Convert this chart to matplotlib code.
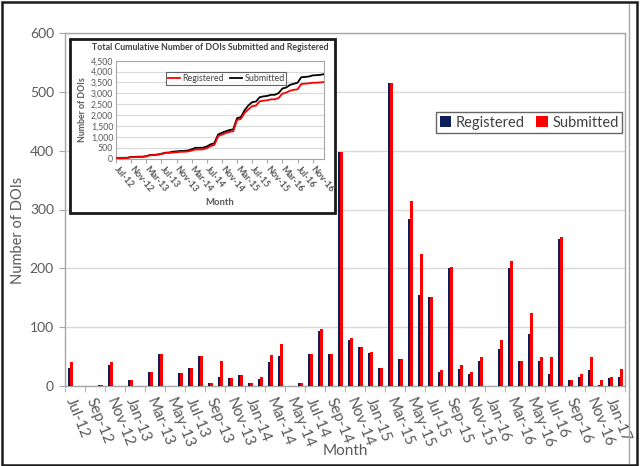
import numpy as np
import matplotlib
matplotlib.use("Agg")
import matplotlib.pyplot as plt
from matplotlib.patches import Rectangle

plt.rcParams['font.family'] = ['Lato', 'DejaVu Sans']

months = ["Jul-12", "Aug-12", "Sep-12", "Oct-12", "Nov-12", "Dec-12",
          "Jan-13", "Feb-13", "Mar-13", "Apr-13", "May-13", "Jun-13",
          "Jul-13", "Aug-13", "Sep-13", "Oct-13", "Nov-13", "Dec-13",
          "Jan-14", "Feb-14", "Mar-14", "Apr-14", "May-14", "Jun-14",
          "Jul-14", "Aug-14", "Sep-14", "Oct-14", "Nov-14", "Dec-14",
          "Jan-15", "Feb-15", "Mar-15", "Apr-15", "May-15", "Jun-15",
          "Jul-15", "Aug-15", "Sep-15", "Oct-15", "Nov-15", "Dec-15",
          "Jan-16", "Feb-16", "Mar-16", "Apr-16", "May-16", "Jun-16",
          "Jul-16", "Aug-16", "Sep-16", "Oct-16", "Nov-16", "Dec-16",
          "Jan-17", "Feb-17"]

registered = [31, 0, 0, 1, 36, 0, 11, 0, 24, 55, 0, 22, 31, 51, 5, 15, 13, 19,
              5, 12, 41, 51, 0, 5, 55, 94, 55, 397, 79, 67, 56, 31, 515, 46,
              284, 154, 151, 23, 200, 29, 20, 42, 0, 63, 201, 42, 89, 42, 20,
              250, 11, 16, 27, 2, 14, 15]
submitted = [40, 0, 0, 2, 40, 0, 11, 0, 24, 55, 0, 22, 31, 51, 5, 42, 13, 19,
             5, 15, 53, 72, 0, 5, 55, 97, 55, 397, 81, 67, 58, 31, 515, 46,
             314, 224, 151, 27, 202, 36, 23, 50, 0, 78, 212, 42, 124, 50, 49,
             253, 11, 21, 50, 11, 16, 29]

main_yticks = [0, 100, 200, 300, 400, 500, 600]
inset_yticks = [0, 500, 1000, 1500, 2000, 2500, 3000, 3500, 4000, 4500]

BLUE = '#0E1E5B'
RED = '#FF0000'
TXT = '#595959'
GRID = '#D9D9D9'
FRAME = '#A6A6A6'

W, H = 640, 466
fig = plt.figure(figsize=(W / 100, H / 100), dpi=100)

# ---------------- main axes ----------------
ax = fig.add_axes([65 / W, 1 - 386 / H, 560 / W, 353 / H])
x = np.arange(len(months))
bw = 0.25
ax.bar(x - bw / 2, registered, width=bw, color=BLUE, label='Registered', zorder=3)
ax.bar(x + bw / 2, submitted, width=bw, color=RED, label='Submitted', zorder=3)

ax.set_xlim(-0.5, len(months) - 0.5)
ax.set_ylim(0, 600)
ax.set_yticks(main_yticks)
ax.yaxis.grid(True, color=GRID, lw=1, zorder=0)
ax.set_axisbelow(True)

ax.set_xticks(x[::2])
ax.set_xticklabels(months[::2], rotation=-68, ha='left', va='center',
                   rotation_mode='anchor', fontsize=11, color=TXT)
ax.set_xticks(np.arange(-0.5, len(months), 2), minor=True)
ax.tick_params(axis='x', which='major', length=0, pad=9)
ax.tick_params(axis='x', which='minor', length=4, color=FRAME, direction='out')
ax.tick_params(axis='y', length=4, color=FRAME, labelsize=10, labelcolor=TXT, pad=4)
for s in ax.spines.values():
    s.set_color(FRAME)
    s.set_linewidth(1)

ax.set_ylabel('Number of DOIs', fontsize=10.5, color=TXT)
ax.yaxis.set_label_coords(-0.072, 0.44)
ax.set_xlabel('Month', fontsize=11, color=TXT)
ax.xaxis.set_label_coords(0.5, -0.165)

leg = ax.legend(loc='upper center', bbox_to_anchor=(0.829, 0.797), ncol=2,
                fontsize=10.5, frameon=True, fancybox=False, edgecolor='#404040',
                handlelength=0.8, handleheight=0.8, handletextpad=0.3,
                columnspacing=0.8, borderpad=0.25, labelcolor='#404040')
leg.get_frame().set_linewidth(1)

# ---------------- inset frame ----------------
frame = Rectangle((70 / W, 1 - 213 / H), 265 / W, 174 / H, transform=fig.transFigure,
                  facecolor='white', edgecolor='#1a1a1a', lw=2, zorder=2)
fig.add_artist(frame)

# ---------------- inset axes ----------------
ia = fig.add_axes([116 / W, 1 - 158.7 / H, 208 / W, 98 / H])
ia.set_zorder(3)
cum_reg = np.cumsum(registered)
cum_sub = np.cumsum(submitted)
ia.plot(x, cum_reg, color=RED, lw=1.3, label='Registered', zorder=3)
ia.plot(x, cum_sub, color='black', lw=1.3, label='Submitted', zorder=2)
ia.set_xlim(0, len(months) - 1)
ia.set_ylim(0, 4500)
ia.set_yticks(inset_yticks)
ia.set_yticklabels([f'{v:,}' for v in inset_yticks], fontsize=6.3, color=TXT)
ia.yaxis.grid(True, color=GRID, lw=0.8, zorder=0)
ia.set_xticks(x[::4])
ia.set_xticklabels(months[::4], rotation=-50, ha='left', va='center',
                   rotation_mode='anchor', fontsize=6.6, color=TXT, fontweight='bold')
ia.tick_params(axis='x', length=3, color=FRAME, pad=3)
ia.tick_params(axis='y', length=0, pad=2)
for s in ia.spines.values():
    s.set_color(FRAME)
    s.set_linewidth(0.8)
ia.set_ylabel('Number of DOIs', fontsize=6.3, color=TXT, fontweight='bold', labelpad=3)
ia.set_xlabel('Month', fontsize=6.8, color=TXT, fontweight='bold', labelpad=3)
t = fig.text(210 / W, 1 - 47 / H,
             'Total Cumulative Number of DOIs Submitted and Registered',
             fontsize=6.3, color='#404040', fontweight='bold', ha='center', va='center')
t.set_zorder(4)
il = ia.legend(loc='upper center', bbox_to_anchor=(0.53, 0.93), ncol=2,
               fontsize=6.4, frameon=True, fancybox=False, edgecolor='#404040',
               handlelength=1.4, handletextpad=0.2, columnspacing=0.7,
               borderpad=0.2, labelcolor='#404040')
il.get_frame().set_linewidth(0.8)

# ---------------- outer border ----------------
fig.add_artist(Rectangle((629 / W, 2 / H), 0.0, 461 / H, transform=fig.transFigure,
                         fill=False, edgecolor=FRAME, lw=1, zorder=5))
fig.add_artist(Rectangle((1.5 / W, 1.5 / H), 635.5 / W, 463 / H, transform=fig.transFigure,
                         fill=False, edgecolor='#1a1a1a', lw=1.8, zorder=5))

fig.savefig('out.png', dpi=100)
